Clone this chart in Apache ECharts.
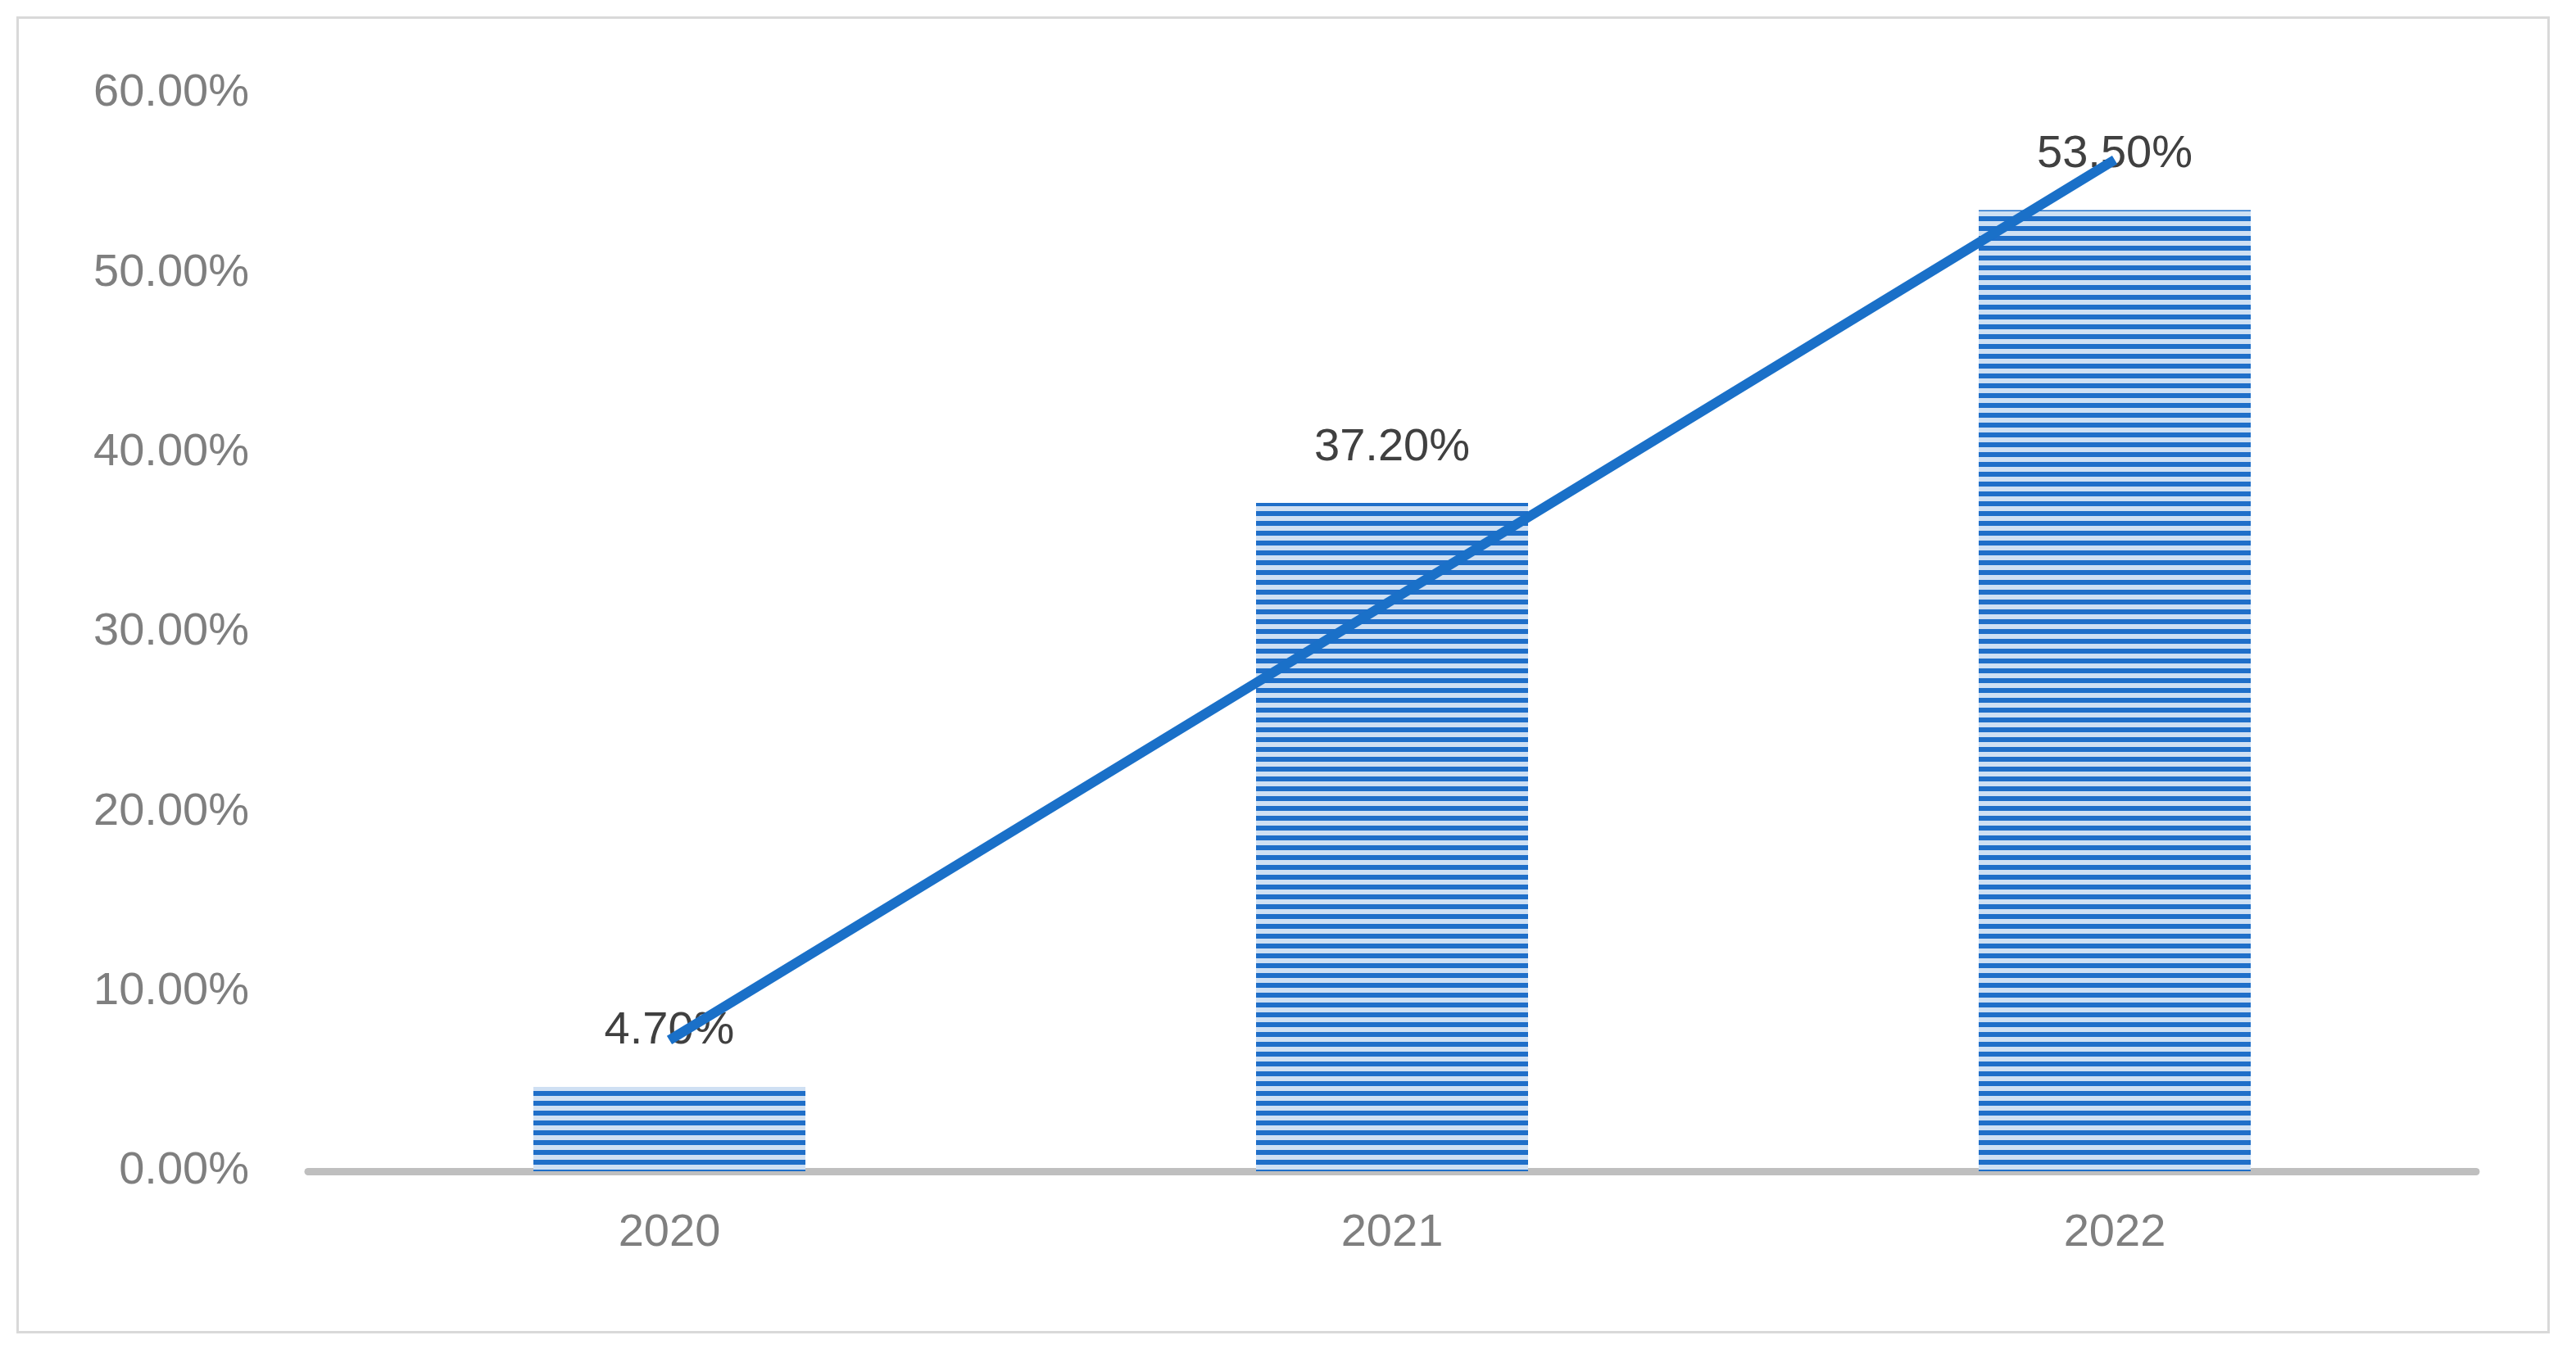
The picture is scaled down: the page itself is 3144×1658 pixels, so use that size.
<!DOCTYPE html><html><head><meta charset="utf-8">
<script src="https://cdn.jsdelivr.net/npm/echarts@6/dist/echarts.min.js"></script>
<style>html,body{margin:0;padding:0;background:#fff}#c{width:3144px;height:1658px}
#b{position:absolute;left:20px;top:20px;width:3092px;height:1608px;border:3px solid #d9d9d9;box-sizing:border-box}</style>
</head><body><div id="b"></div><div id="c"></div><script>
const categories=['2020','2021','2022'];
const barValues=[4.7,37.2,53.5];
const trendValues=[7.3,31.8,56.3];
const cv=document.createElement('canvas');cv.width=12;cv.height=12;
const g=cv.getContext('2d');g.fillStyle='#cfe0f3';g.fillRect(0,0,12,12);g.fillStyle='#1f6fc9';g.fillRect(0,0,12,6);
const ch=echarts.init(document.getElementById('c'));
const font='"Liberation Sans", Arial, sans-serif';
ch.setOption({animation:false,
grid:{left:376,right:122,top:114,bottom:228},
xAxis:{type:'category',data:categories,axisTick:{show:false},axisLine:{lineStyle:{color:'#bfbfbf',width:9}},
 axisLabel:{color:'#7f7f7f',fontSize:56,fontFamily:font,margin:48}},
yAxis:{type:'value',min:0,max:60,interval:10,splitLine:{show:false},axisLine:{show:false},axisTick:{show:false},
 axisLabel:{color:'#7f7f7f',fontSize:56,fontFamily:font,margin:72,formatter:v=>v.toFixed(2)+'%'}},
series:[{type:'bar',data:barValues,barWidth:332,itemStyle:{color:{image:cv,repeat:'repeat'}},
 label:{show:true,position:'top',distance:40,color:'#404040',fontSize:56,fontFamily:font,formatter:p=>p.value.toFixed(2)+'%'}},
{type:'line',data:trendValues,symbol:'none',lineStyle:{color:'#1a70c8',width:12},z:5}]});
</script></body></html>
